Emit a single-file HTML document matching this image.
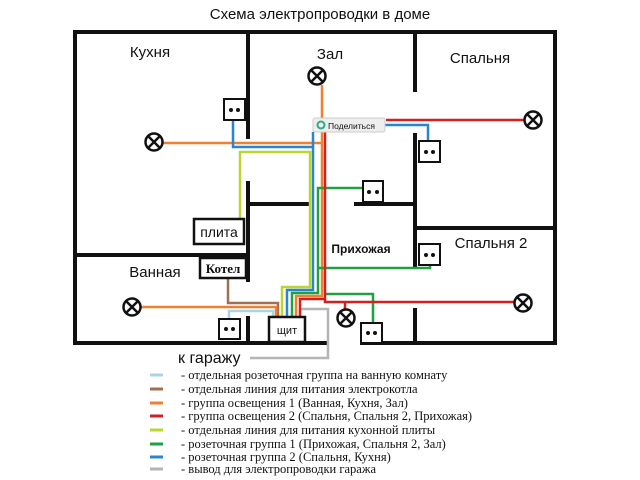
<!DOCTYPE html>
<html><head><meta charset="utf-8"><style>
body{margin:0;background:#fff}
svg{display:block}
.t{font-family:"Liberation Sans",sans-serif;fill:#111}
.s{font-family:"Liberation Serif",serif;fill:#111}
</style></head><body>
<svg width="640" height="480" viewBox="0 0 640 480" xmlns="http://www.w3.org/2000/svg">
<text x="320" y="19" text-anchor="middle" class="t" font-size="15">Схема электропроводки в доме</text>
<g stroke="#111" stroke-width="4" fill="none" stroke-linecap="square">
<path d="M327 343 H75 V32 H555 V343 H362"/>
<path d="M248 32 V137"/>
<path d="M415 32 V90"/>
<path d="M415 135 V267"/>
<path d="M415 228 H555"/>
<path d="M356 204 H415"/>
<path d="M248 204 H307"/>
<path d="M248 183 V280"/>
<path d="M75 255 H248"/>
<path d="M248 318 V343"/>
<path d="M415 310 V343"/>
</g>
<g fill="none" stroke-width="2.5">
<path d="M300 317 V309 H328 V358 H250" stroke="#b5b5b5"/>
<path d="M229 318 V311 H273 V317" stroke="#a8d4e4"/>
<path d="M228 278 V303 H278 V317" stroke="#a07050"/>
<path d="M141 307 H276 V317" stroke="#f08030"/>
<path d="M163 143 H322" stroke="#f08030"/>
<path d="M322 85 V296 H296 V317" stroke="#f08030"/>
<path d="M240 218 V152 H310 V287 H282 V317" stroke="#b8d830"/>
<path d="M233 120 V147 H313 V290 H287 V317" stroke="#2a85d0"/>
<path d="M313 147 V132" stroke="#2a85d0"/>
<path d="M385 125 H428 V140" stroke="#2a85d0"/>
<path d="M363 188 H318 V293 H292 V317" stroke="#20a040"/>
<path d="M318 268 H430 V265" stroke="#20a040"/>
<path d="M325 294 H373 V322" stroke="#20a040"/>
<path d="M325 120 V302 H514" stroke="#d02020"/>
<path d="M325 299 H300 V317" stroke="#d02020"/>
<path d="M386 120 H524" stroke="#d02020"/>
<path d="M345 302 V309" stroke="#d02020"/>
</g>
<g stroke="#111" stroke-width="2.5" fill="#fff">
<g transform="translate(317,76)"><circle r="8.5"/><path d="M-6-6L6 6M6-6L-6 6"/></g>
<g transform="translate(154,142)"><circle r="8.5"/><path d="M-6-6L6 6M6-6L-6 6"/></g>
<g transform="translate(533,120)"><circle r="8.5"/><path d="M-6-6L6 6M6-6L-6 6"/></g>
<g transform="translate(132,307)"><circle r="8.5"/><path d="M-6-6L6 6M6-6L-6 6"/></g>
<g transform="translate(523,303)"><circle r="8.5"/><path d="M-6-6L6 6M6-6L-6 6"/></g>
<g transform="translate(346,318)"><circle r="8.5"/><path d="M-6-6L6 6M6-6L-6 6"/></g>
</g>
<g stroke="#111" stroke-width="2" fill="#fff">
<rect x="224" y="99" width="21" height="21"/>
<rect x="419" y="141" width="21" height="21"/>
<rect x="363" y="181" width="20" height="21"/>
<rect x="419" y="244" width="21" height="21"/>
<rect x="219" y="319" width="21" height="20"/>
<rect x="361" y="323" width="21" height="20"/>
</g>
<g fill="#111">
<circle cx="231" cy="110" r="2"/><circle cx="238" cy="110" r="2"/>
<circle cx="426" cy="152" r="2"/><circle cx="433" cy="152" r="2"/>
<circle cx="369" cy="192" r="2"/><circle cx="377" cy="192" r="2"/>
<circle cx="426" cy="255" r="2"/><circle cx="433" cy="255" r="2"/>
<circle cx="226" cy="329" r="2"/><circle cx="233" cy="329" r="2"/>
<circle cx="368" cy="333" r="2"/><circle cx="375" cy="333" r="2"/>
</g>
<g stroke="#111" stroke-width="2.5" fill="#fff">
<rect x="194" y="219" width="50" height="25"/>
<rect x="200" y="258" width="46" height="20"/>
<rect x="269" y="317" width="36" height="25"/>
</g>
<text x="219" y="237" text-anchor="middle" class="t" font-size="14">плита</text>
<text x="223" y="273" text-anchor="middle" class="s" font-size="13" font-weight="bold">Котел</text>
<text x="287" y="334" text-anchor="middle" class="t" font-size="11">щит</text>
<rect x="313" y="118" width="72" height="14" rx="2" fill="#eee" stroke="#ccc"/>
<circle cx="321" cy="125" r="3.5" fill="none" stroke="#3a8" stroke-width="2"/>
<text x="328" y="129" class="t" font-size="8.5" fill="#555">Поделиться</text>
<text x="150" y="57" text-anchor="middle" class="t" font-size="15">Кухня</text>
<text x="330" y="59" text-anchor="middle" class="t" font-size="15">Зал</text>
<text x="480" y="63" text-anchor="middle" class="t" font-size="15">Спальня</text>
<text x="491" y="248" text-anchor="middle" class="t" font-size="15">Спальня 2</text>
<text x="361" y="253" text-anchor="middle" class="t" font-size="12" font-weight="bold">Прихожая</text>
<text x="155" y="277" text-anchor="middle" class="t" font-size="15">Ванная</text>
<text x="178" y="363" class="t" font-size="16">к гаражу</text>
<g stroke-width="3">
<path d="M150 375H163" stroke="#a8d4e4"/>
<path d="M150 389H163" stroke="#a07050"/>
<path d="M150 403H163" stroke="#f08030"/>
<path d="M150 416H163" stroke="#d02020"/>
<path d="M150 430H163" stroke="#b8d830"/>
<path d="M150 444H163" stroke="#20a040"/>
<path d="M150 457H163" stroke="#2a85d0"/>
<path d="M150 469H163" stroke="#b5b5b5"/>
</g>
<g class="s" font-size="12.5">
<text x="181" y="379">- отдельная розеточная группа на ванную комнату</text>
<text x="181" y="393">- отдельная линия для питания электрокотла</text>
<text x="181" y="407">- группа освещения 1 (Ванная, Кухня, Зал)</text>
<text x="181" y="420">- группа освещения 2 (Спальня, Спальня 2, Прихожая)</text>
<text x="181" y="434">- отдельная линия для питания кухонной плиты</text>
<text x="181" y="448">- розеточная группа 1 (Прихожая, Спальня 2, Зал)</text>
<text x="181" y="461">- розеточная группа 2 (Спальня, Кухня)</text>
<text x="181" y="473">- вывод для электропроводки гаража</text>
</g>
</svg>
</body></html>
